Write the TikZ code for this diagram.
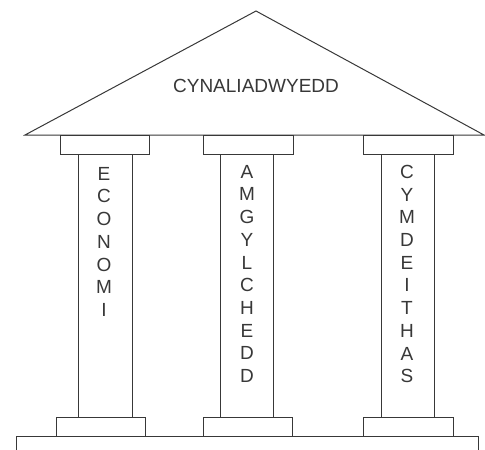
\documentclass[tikz,border=0pt]{standalone}
\usepackage{fontspec}
\setmainfont{Liberation Sans}
\definecolor{ink}{HTML}{383838}
\begin{document}
\begin{tikzpicture}[x=1pt,y=-1pt,
  part/.style={draw=ink,line width=1pt,fill=white},
  title/.style={text=ink,inner sep=0pt,font=\fontsize{19}{22.7}\selectfont},
  pillartext/.style={text=ink,inner sep=0pt,anchor=north,align=center,font=\fontsize{19}{22.7}\selectfont}]
\useasboundingbox (0,0) rectangle (485,450);
% roof
\draw[part,line join=miter] (25,135) -- (256,11) -- (484,135) -- cycle;
\node[title] (roof) at (256,86) {CYNALIADWYEDD};
% top capitals
\draw[part] (60,135) rectangle (149,154);
\draw[part] (203,135) rectangle (293,154);
\draw[part] (363,135) rectangle (453,154);
% columns
\draw[part] (78,154) rectangle (132,417);
\draw[part] (220,154) rectangle (273,417);
\draw[part] (381,154) rectangle (434,417);
% bottom capitals
\draw[part] (56,417) rectangle (145,436);
\draw[part] (203,417) rectangle (292,436);
\draw[part] (363,417) rectangle (453,436);
% platform
\draw[draw=ink,line width=1pt] (16,451) -- (16,436) -- (478,436) -- (478,451);
% texts
\node[pillartext] (econ) at (104,167) {E\\C\\O\\N\\O\\M\\I};
\node[pillartext] (amg) at (247,165) {A\\M\\G\\Y\\L\\C\\H\\E\\D\\D};
\node[pillartext] (cym) at (407,165) {C\\Y\\M\\D\\E\\I\\T\\H\\A\\S};
\end{tikzpicture}
\end{document}
